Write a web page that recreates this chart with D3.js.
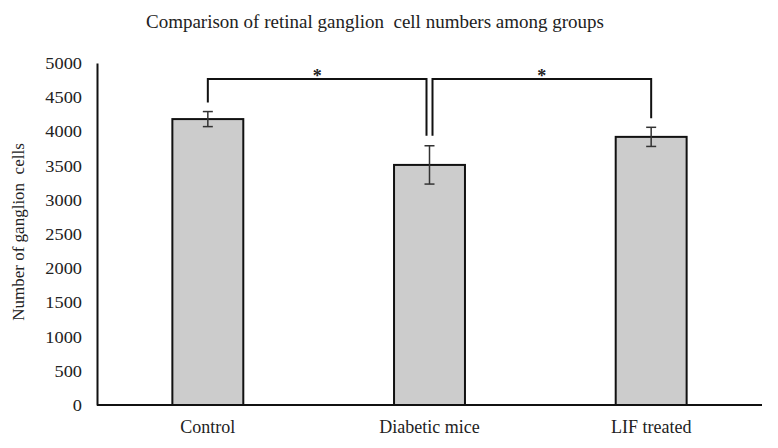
<!DOCTYPE html>
<html>
<head>
<meta charset="utf-8">
<script src="https://cdn.jsdelivr.net/npm/d3@7"></script>
<style>
  body { margin: 0; background: #fff; }
  svg text { font-family: "Liberation Serif", "Times New Roman", serif; fill: #222; white-space: pre; }
</style>
</head>
<body>
<svg id="chart"></svg>
<script>
var groups = ["Control", "Diabetic mice", "LIF treated"];
var cells = [4180, 3510, 3920];
var errs = [110, 280, 140];
var yTicks = [0, 500, 1000, 1500, 2000, 2500, 3000, 3500, 4000, 4500, 5000];

var width = 778, height = 448;
var plotLeft = 97, plotRight = 762, plotTop = 63, plotBottom = 405;

var svg = d3.select("#chart")
    .attr("width", width)
    .attr("height", height);

var x = d3.scaleBand()
    .domain(groups)
    .range([plotLeft, plotRight])
    .paddingInner(0.68)
    .paddingOuter(0.34);

var y = d3.scaleLinear()
    .domain([0, 5000])
    .range([plotBottom, plotTop]);

// title
svg.append("text")
    .attr("x", 375)
    .attr("y", 28)
    .attr("text-anchor", "middle")
    .attr("font-family", "Liberation Serif")
    .style("font-size", "19px")
    .text("Comparison of retinal ganglion  cell numbers among groups");

// y axis
var yAxis = d3.axisLeft(y)
    .tickValues(yTicks)
    .tickSize(0)
    .tickPadding(0)
    .tickFormat(d3.format("d"));

var gy = svg.append("g")
    .attr("transform", "translate(" + plotLeft + ",0)")
    .call(yAxis)
    .attr("font-family", "Liberation Serif");
gy.select(".domain").attr("stroke", "#111").attr("stroke-width", 2);
gy.selectAll(".tick text")
    .attr("x", null)
    .attr("transform", "translate(-15,0) scale(1.08,1)")
    .style("font-size", "17px");

svg.append("text")
    .attr("transform", "translate(24,232) rotate(-90)")
    .attr("text-anchor", "middle")
    .attr("font-family", "Liberation Serif")
    .style("font-size", "17px")
    .text("Number of ganglion  cells");

// bars
svg.selectAll("rect.bar")
    .data(groups)
    .enter()
    .append("rect")
    .attr("class", "bar")
    .attr("x", function(d) { return x(d); })
    .attr("width", x.bandwidth())
    .attr("y", function(d, i) { return y(cells[i]); })
    .attr("height", function(d, i) { return plotBottom - y(cells[i]); })
    .attr("fill", "#cccccc")
    .attr("stroke", "#111")
    .attr("stroke-width", 2);

// x axis
var xAxis = d3.axisBottom(x).tickSize(0).tickPadding(0);
var gx = svg.append("g")
    .attr("transform", "translate(0," + plotBottom + ")")
    .call(xAxis)
    .attr("font-family", "Liberation Serif");
gx.select(".domain").attr("stroke", "#111").attr("stroke-width", 2)
    .attr("d", "M" + plotLeft + ",0H" + plotRight);
gx.selectAll(".tick text")
    .attr("y", 28)
    .attr("dy", null)
    .style("font-size", "18px");

// error bars
function cx(d) { return x(d) + x.bandwidth() / 2; }
var eb = svg.selectAll("g.err")
    .data(groups)
    .enter()
    .append("g")
    .attr("class", "err")
    .attr("stroke", "#333")
    .attr("stroke-width", 1.5);
eb.append("line")
    .attr("x1", cx).attr("x2", cx)
    .attr("y1", function(d, i) { return y(cells[i] + errs[i]); })
    .attr("y2", function(d, i) { return y(cells[i] - errs[i]); });
[1, -1].forEach(function(s) {
    eb.append("line")
        .attr("x1", function(d) { return cx(d) - 5; })
        .attr("x2", function(d) { return cx(d) + 5; })
        .attr("y1", function(d, i) { return y(cells[i] + s * errs[i]); })
        .attr("y2", function(d, i) { return y(cells[i] + s * errs[i]); });
});

// significance brackets: Control vs Diabetic, Diabetic vs LIF
var bracketY = 79;
var pairs = [[0, 1], [1, 2]];
pairs.forEach(function(p) {
    var a = p[0], b = p[1];
    var x1 = cx(groups[a]) + (a === 1 ? 3 : 0);
    var x2 = cx(groups[b]) - (b === 1 ? 3 : 0);
    var gap = function(i) { return i === 1 ? 10 : 9; };
    var y1 = y(cells[a] + errs[a]) - gap(a);
    var y2 = y(cells[b] + errs[b]) - gap(b);
    svg.append("path")
        .attr("d", "M" + x1 + "," + y1 + "V" + bracketY + "H" + x2 + "V" + y2)
        .attr("fill", "none")
        .attr("stroke", "#111")
        .attr("stroke-width", 2);
    svg.append("text")
        .attr("x", (x1 + x2) / 2)
        .attr("y", bracketY + 3)
        .attr("text-anchor", "middle")
        .attr("font-family", "Liberation Serif")
        .style("font-size", "18px")
        .style("font-weight", "bold")
        .text("*");
});
</script>
</body>
</html>
